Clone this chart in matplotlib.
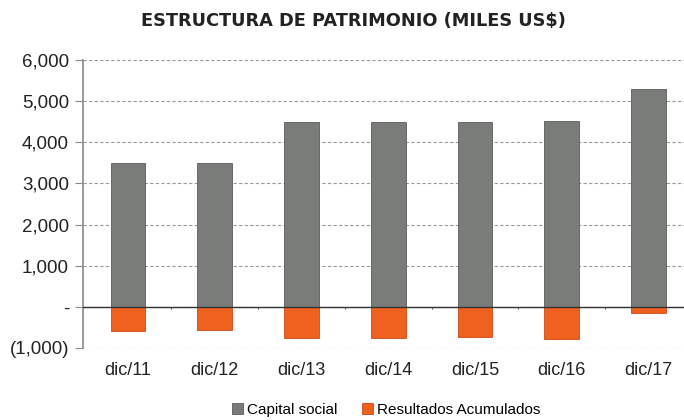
import numpy as np
import matplotlib
matplotlib.use("Agg")
import matplotlib.pyplot as plt
from matplotlib.ticker import FuncFormatter

plt.rcParams['font.family'] = ['Liberation Sans', 'DejaVu Sans']

# data (miles US$)
periodos = ['dic/11', 'dic/12', 'dic/13', 'dic/14', 'dic/15', 'dic/16', 'dic/17']
capital_social = [3490, 3500, 4490, 4500, 4500, 4520, 5300]
resultados_acum = [-580, -560, -760, -750, -730, -770, -150]

gris = '#797c79'
naranja = '#f0601e'

fig = plt.figure(figsize=(6.84, 4.2), dpi=100)
ax = fig.add_axes([83 / 684, 1 - 348 / 420, 1 - 83 / 684, (348 - 60) / 420])

x = np.arange(len(periodos))
ax.bar(x, capital_social, width=0.4, color=gris, edgecolor='#5a5c5a', linewidth=0.6,
       label='Capital social', zorder=3)
ax.bar(x, resultados_acum, width=0.4, color=naranja, edgecolor='#c84a14', linewidth=0.6,
       label='Resultados Acumulados', zorder=3)

ax.set_ylim(-1000, 6000)
ax.set_xlim(-0.52, 6.41)
ax.set_yticks(np.arange(-1000, 6001, 1000))


def fmt(v, pos):
    if v == 0:
        return '-'
    if v < 0:
        return '({:,.0f})'.format(-v)
    return '{:,.0f}'.format(v)


ax.yaxis.set_major_formatter(FuncFormatter(fmt))
ax.yaxis.grid(True, linestyle=(0, (3, 2)), color='#9a9a9a', linewidth=0.8, zorder=0)
ax.axhline(0, color='#333333', linewidth=1.0, zorder=4)
# small marks between categories on the zero line
ax.vlines(x[:-1] + 0.5, -60, 0, color='#555555', linewidth=0.8, zorder=4)

for s in ['top', 'right', 'bottom']:
    ax.spines[s].set_visible(False)
ax.spines['left'].set_color('#8a8a8a')
ax.spines['left'].set_linewidth(1.2)

ax.tick_params(axis='y', direction='out', length=6, color='#8a8a8a', labelsize=13.5,
               labelcolor='#222222', pad=4)
ax.set_xticks(x)
ax.set_xticklabels(periodos)
ax.tick_params(axis='x', length=0, labelsize=13, labelcolor='#222222', pad=10)

fig.text(0.517, 0.95, 'ESTRUCTURA DE PATRIMONIO (MILES US$)', ha='center', va='center',
         fontsize=12.8, fontweight='bold', color='#222222', family='DejaVu Sans')

fig.legend(loc='center', bbox_to_anchor=(0.565, 0.024), ncol=2, frameon=False,
           fontsize=11, handlelength=0.7, handleheight=0.7, handletextpad=0.3,
           columnspacing=1.6)

fig.savefig('out.png', dpi=100)
